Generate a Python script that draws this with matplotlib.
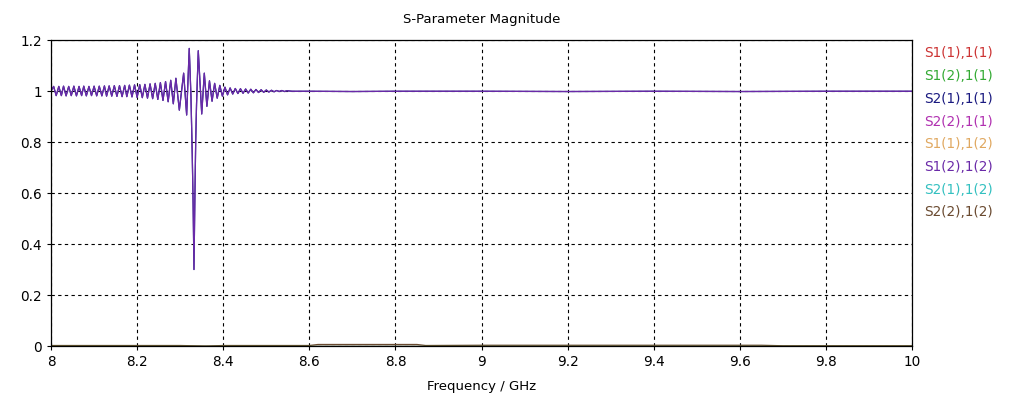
import matplotlib
matplotlib.use("Agg")
import matplotlib.pyplot as plt

# transmission trace (extrema of the ripple)
freq_main = [8.000, 8.006, 8.012, 8.018, 8.024, 8.029, 8.035, 8.041, 8.047, 8.053,
             8.059, 8.065, 8.071, 8.076, 8.082, 8.088, 8.094, 8.100, 8.106, 8.112,
             8.118, 8.124, 8.129, 8.135, 8.141, 8.147, 8.153, 8.159, 8.165, 8.171,
             8.176, 8.182, 8.188, 8.194, 8.200, 8.206, 8.212, 8.218, 8.224, 8.230,
             8.236, 8.242, 8.248, 8.254, 8.260, 8.266, 8.272, 8.278, 8.284, 8.290,
             8.298, 8.308, 8.315, 8.321, 8.325, 8.328, 8.330, 8.332, 8.334, 8.336,
             8.338, 8.342, 8.350, 8.356, 8.362, 8.368, 8.374, 8.380, 8.386, 8.392,
             8.398, 8.404, 8.410, 8.416, 8.422, 8.428, 8.434, 8.440, 8.446, 8.452,
             8.458, 8.464, 8.470, 8.476, 8.482, 8.488, 8.494, 8.500, 8.506, 8.512,
             8.518, 8.524, 8.530, 8.536, 8.542, 8.548, 8.560, 8.600, 8.700, 8.800,
             9.000, 9.200, 9.400, 9.600, 9.800, 10.000]
mag_main = [1.000, 1.018, 0.982, 1.018, 0.982, 1.019, 0.981, 1.018, 0.982, 1.019,
            0.981, 1.018, 0.982, 1.019, 0.981, 1.018, 0.982, 1.019, 0.981, 1.019,
            0.981, 1.020, 0.980, 1.020, 0.980, 1.021, 0.979, 1.021, 0.978, 1.022,
            0.978, 1.023, 0.977, 1.024, 0.975, 1.025, 0.974, 1.026, 0.972, 1.028,
            0.970, 1.030, 0.967, 1.033, 0.963, 1.037, 0.958, 1.042, 0.950, 1.050,
            0.925, 1.070, 0.906, 1.167, 0.980, 0.750, 0.560, 0.300, 0.570, 0.800,
            0.950, 1.158, 0.910, 1.070, 0.940, 1.040, 0.960, 1.030, 0.972, 1.022,
            0.980, 1.015, 0.985, 1.012, 0.988, 1.010, 0.990, 1.009, 0.991, 1.008,
            0.992, 1.007, 0.993, 1.006, 0.994, 1.005, 0.995, 1.004, 0.996, 1.003,
            0.997, 1.002, 0.998, 1.002, 0.998, 1.001, 0.999, 0.999, 0.998, 0.999,
            0.999, 0.998, 0.999, 0.998, 0.999, 0.999]

# near-zero traces
freq_low = [8.0, 8.3, 8.36, 8.4, 8.5, 8.6, 8.62, 8.85, 8.87, 9.0, 9.65, 9.7, 10.0]
mag_low = [0.002, 0.002, 0.0, 0.002, 0.002, 0.002, 0.006, 0.006, 0.002, 0.003, 0.003, 0.001, 0.001]
mag_zero = [0.001] * len(freq_low)

labels = ["S1(1),1(1)", "S1(2),1(1)", "S2(1),1(1)", "S2(2),1(1)",
          "S1(1),1(2)", "S1(2),1(2)", "S2(1),1(2)", "S2(2),1(2)"]
colors = ["#cc3333", "#33aa33", "#1a1a80", "#b030b0",
          "#e0a860", "#6a2aa8", "#33c0c0", "#6a4a30"]

x_ticks = [8, 8.2, 8.4, 8.6, 8.8, 9, 9.2, 9.4, 9.6, 9.8, 10]
x_tick_labels = ["8", "8.2", "8.4", "8.6", "8.8", "9", "9.2", "9.4", "9.6", "9.8", "10"]
y_ticks = [0, 0.2, 0.4, 0.6, 0.8, 1, 1.2]
y_tick_labels = ["0", "0.2", "0.4", "0.6", "0.8", "1", "1.2"]

plt.rcParams['font.family'] = ['DejaVu Sans']
fig = plt.figure(figsize=(10.25, 3.99), dpi=100)
ax = fig.add_axes([0.0498, 0.1328, 0.8400, 0.7669])

series = [
    (freq_low, mag_zero),   # S1(1),1(1)
    (freq_low, mag_zero),   # S1(2),1(1)
    (freq_main, mag_main),  # S2(1),1(1)
    (freq_low, mag_zero),   # S2(2),1(1)
    (freq_low, mag_zero),   # S1(1),1(2)
    (freq_main, mag_main),  # S1(2),1(2)
    (freq_low, mag_zero),   # S2(1),1(2)
    (freq_low, mag_low),    # S2(2),1(2)
]
# drawing order so the green trace sits on top near zero, purple on top near one
order = [0, 3, 4, 6, 7, 1, 2, 5]
lines = {}
for i in order:
    f, m = series[i]
    lines[i], = ax.plot(f, m, color=colors[i], lw=0.9, label=labels[i])

ax.set_xlim(8, 10)
ax.set_ylim(0, 1.2)
ax.set_xticks(x_ticks)
ax.set_xticklabels(x_tick_labels)
ax.set_yticks(y_ticks)
ax.set_yticklabels(y_tick_labels)
ax.tick_params(direction='out', length=3, width=0.8, labelsize=9.8, colors='black')
ax.grid(True, color='black', linestyle=(0, (3, 3)), linewidth=0.8)
for s in ax.spines.values():
    s.set_linewidth(0.9)

ax.set_title("S-Parameter Magnitude", fontsize=9.5, pad=12)
ax.set_xlabel("Frequency / GHz", fontsize=9.5, labelpad=8)

ax.legend([lines[i] for i in range(8)], labels, loc='upper left',
          bbox_to_anchor=(1.008, 0.997), frameon=False, handlelength=0,
          handletextpad=0, labelcolor='linecolor', fontsize=9.8,
          labelspacing=0.64, borderaxespad=0)

fig.savefig("out.png", dpi=100)
